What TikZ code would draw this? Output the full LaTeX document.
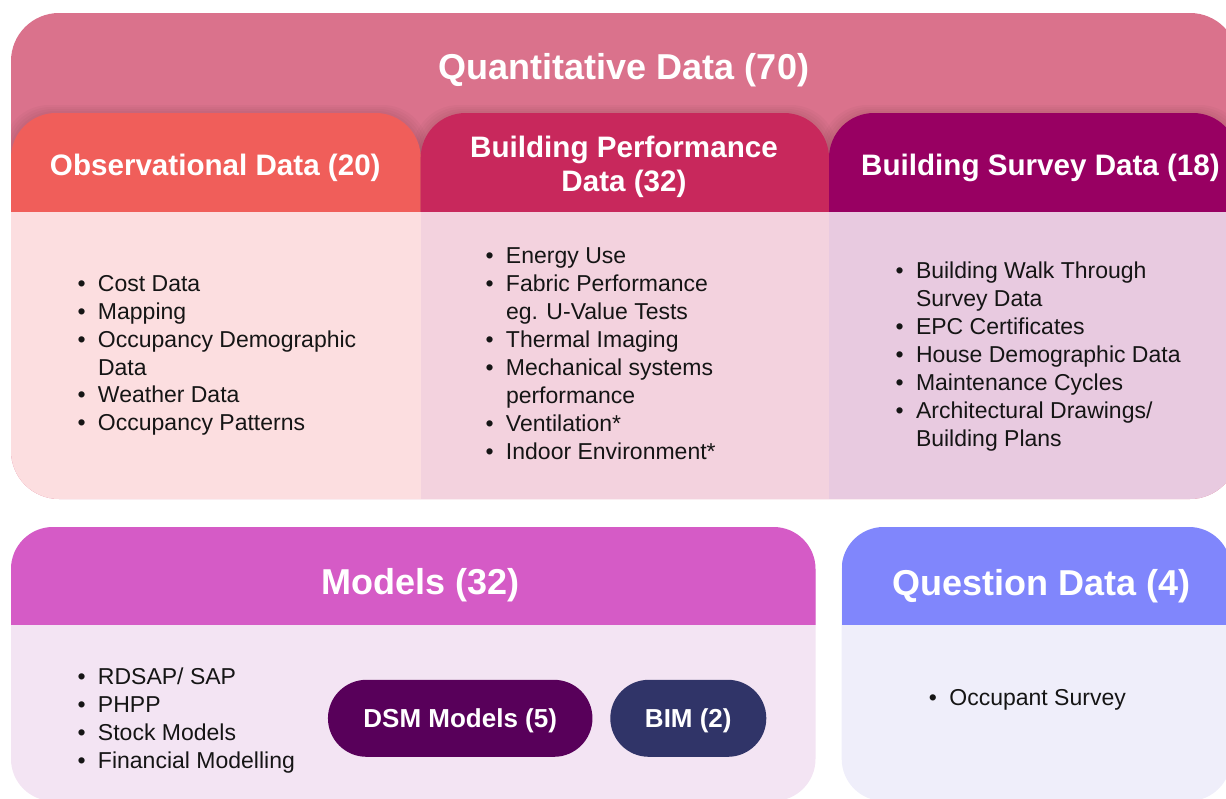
\documentclass[tikz,border=0pt]{standalone}
\usepackage{fontspec}
\setmainfont{Liberation Sans}
\definecolor{cOuter}{HTML}{DA728C}
\definecolor{cObsH}{HTML}{F05E5A}
\definecolor{cObsB}{HTML}{FCDEE0}
\definecolor{cPerfH}{HTML}{C8285C}
\definecolor{cPerfB}{HTML}{F3D2DE}
\definecolor{cSurH}{HTML}{980062}
\definecolor{cSurB}{HTML}{E8CAE0}
\definecolor{cModH}{HTML}{D55BC6}
\definecolor{cModB}{HTML}{F3E4F3}
\definecolor{cQueH}{HTML}{8086FC}
\definecolor{cQueB}{HTML}{EFEEFA}
\definecolor{cDSM}{HTML}{58005A}
\definecolor{cBIM}{HTML}{303468}
\definecolor{cTxt}{HTML}{151515}
\newcommand\lbul{\makebox[20.5pt][l]{\textbullet}}
\newcommand\lind{\hspace*{20.5pt}}
\begin{document}
\begin{tikzpicture}[x=1pt,y=-1pt,
  hdr/.style={text=white,font=\bfseries\fontsize{29.6}{34}\selectfont,inner sep=0pt,anchor=base},
  bigt/.style={text=white,font=\bfseries\fontsize{36}{40}\selectfont,inner sep=0pt,anchor=base},
  lst/.style={text=cTxt,font=\fontsize{23}{28}\selectfont,inner sep=0pt,anchor=base west},
  pillbox/.style={text=white,font=\bfseries\fontsize{26}{30}\selectfont,inner sep=0pt,
    text height=18.6pt,text depth=0pt,minimum height=77pt,rounded corners=38.5pt}]
\useasboundingbox (0,0) rectangle (1226,798);

% ---------- Quantitative data block ----------
\fill[cOuter,rounded corners=48pt] (11,13) rectangle (1238,499);
\begin{scope}
  \clip[rounded corners=48pt] (11,13) rectangle (1238,499);
  % soft shadows around the headers
  \foreach \d in {8,6,4,2}{
    \fill[black,opacity=0.022,rounded corners=46pt] (11-\d,113-\d) rectangle (420.7+\d,270);
    \fill[black,opacity=0.022,rounded corners=46pt] (420.7-\d,113-\d) rectangle (829+\d,270);
    \fill[black,opacity=0.022,rounded corners=46pt] (829-\d,113-\d) rectangle (1238+\d,270);
  }
  % headers
  \fill[cObsH,rounded corners=45pt] (11,113) rectangle (420.7,270);
  \fill[cPerfH,rounded corners=45pt] (420.7,113) rectangle (829,270);
  \fill[cSurH,rounded corners=45pt] (829,113) rectangle (1238,270);
  % bodies
  \fill[cObsB] (11,212) rectangle (420.7,499);
  \fill[cPerfB] (420.7,212) rectangle (829,499);
  \fill[cSurB] (829,212) rectangle (1238,499);
\end{scope}

\node[bigt] (quant) at (624,79.5) {Quantitative Data (70)};
\node[hdr] (obs) at (215.3,175) {Observational Data (20)};
\node[hdr] (perf) at (624,191.5) {\begin{tabular}[b]{@{}c@{}}Building Performance\\Data (32)\end{tabular}};
\node[hdr] (surv) at (1040.5,175) {Building Survey Data (18)};

\node[lst] (obslist) at (77.3,291.7) {\fontsize{23}{27.8}\selectfont\begin{tabular}[t]{@{}l@{}}
\lbul Cost Data\\
\lbul Mapping\\
\lbul Occupancy Demographic\\
\lind Data\\
\lbul Weather Data\\
\lbul Occupancy Patterns
\end{tabular}};

\node[lst] (perflist) at (485.3,263.3) {\begin{tabular}[t]{@{}l@{}}
\lbul Energy Use\\
\lbul Fabric Performance\\
\lind eg. U-Value Tests\\
\lbul Thermal Imaging\\
\lbul Mechanical systems\\
\lind performance\\
\lbul Ventilation*\\
\lbul Indoor Environment*
\end{tabular}};

\node[lst] (survlist) at (895.3,278.3) {\begin{tabular}[t]{@{}l@{}}
\lbul Building Walk Through\\
\lind Survey Data\\
\lbul EPC Certificates\\
\lbul House Demographic Data\\
\lbul Maintenance Cycles\\
\lbul Architectural Drawings/\\
\lind Building Plans
\end{tabular}};

% ---------- Models block ----------
\fill[cModB,rounded corners=42pt] (11,527) rectangle (815.5,801);
\begin{scope}
  \clip[rounded corners=42pt] (11,527) rectangle (815.5,801);
  \fill[cModH] (11,527) rectangle (815.5,625);
\end{scope}
\node[bigt] (models) at (420.7,594.5) {Models (32)};
\node[lst] (modlist) at (77.3,684) {\begin{tabular}[t]{@{}l@{}}
\lbul RDSAP/ SAP\\
\lbul PHPP\\
\lbul Stock Models\\
\lbul Financial Modelling
\end{tabular}};
\node[pillbox,fill=cDSM,minimum width=264.5pt] (dsm) at (460.2,718.3) {DSM Models (5)};
\node[pillbox,fill=cBIM,minimum width=156pt] (bim) at (688.3,718.3) {BIM (2)};

% ---------- Question block ----------
\fill[cQueB,rounded corners=42pt] (841.7,527) rectangle (1231,801);
\begin{scope}
  \clip[rounded corners=42pt] (841.7,527) rectangle (1231,801);
  \fill[cQueH] (841.7,527) rectangle (1231,625);
\end{scope}
\node[bigt] (quest) at (1041.2,595) {Question Data (4)};
\node[lst] (queslist) at (928.7,705) {\begin{tabular}[t]{@{}l@{}}
\lbul Occupant Survey
\end{tabular}};
\end{tikzpicture}
\end{document}
